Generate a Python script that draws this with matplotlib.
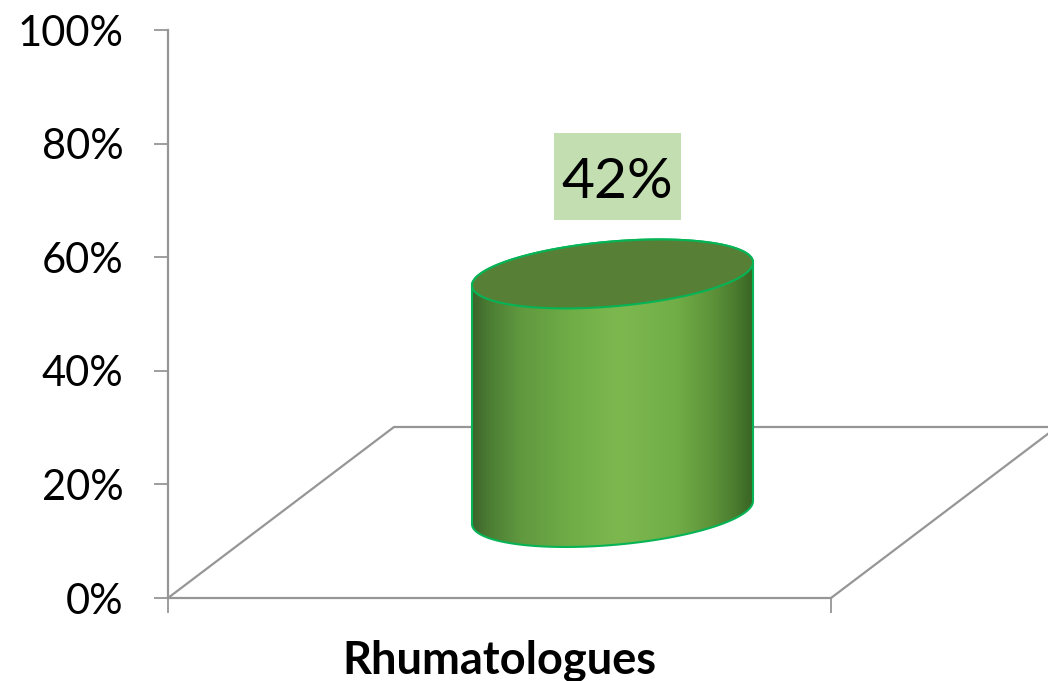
import matplotlib
matplotlib.use('Agg')
import matplotlib.pyplot as plt
from matplotlib.colors import LinearSegmentedColormap
from matplotlib.patches import Polygon, Rectangle
from matplotlib.ticker import FuncFormatter
import numpy as np

categories = ['Rhumatologues']
values = [42]
y_ticks = [0, 20, 40, 60, 80, 100]

plt.rcParams['font.family'] = ['Lato', 'DejaVu Sans']

W, H = 1048, 681
fig = plt.figure(figsize=(W / 100, H / 100), dpi=100)
#Axes box in pixels of the picture: x 168-831, y 30-598
ax = fig.add_axes([168 / W, 1 - 598 / H, 663 / W, 568 / H])
ax.set_xlim(-0.5, 0.5)
ax.set_ylim(0, 100)

grey = '#969696'
edge = '#06b456'

#Depth of the fake 3D floor, in data units
depth_x = 226 / 663
depth_y = 171 / 5.68

#Floor lines
ax.plot([-0.5, -0.5 + depth_x, 0.5 + depth_x, 0.5],
        [0, depth_y, depth_y, 0],
        color=grey, lw=1.6, clip_on=False, zorder=1)

#Cylinder: ellipse semi axes, with a shear for the tilt
rx = 140.5 / 663
ry = 32.5 / 5.68
shear = 11.5 / 5.68
t = np.linspace(0, 2 * np.pi, 200)


def ellipse(x0, y0, t):
    return x0 + rx * np.cos(t), y0 + shear * np.cos(t) + ry * np.sin(t)


side_cmap = LinearSegmentedColormap.from_list('side', [
    (0.00, '#3d642b'), (0.06, '#4c7d33'), (0.17, '#60983f'), (0.35, '#70ad47'),
    (0.52, '#7db84f'), (0.72, '#72ae48'), (0.85, '#5e943a'), (0.94, '#4a7a2e'),
    (1.00, '#376323')])

for i, v in enumerate(values):
    cx = i + depth_x / 2
    base = depth_y / 2
    top = base + v

    #Outline of the body: lower half of the base, then up and over the top ellipse
    tb = np.linspace(np.pi, 2 * np.pi, 100)
    xb, yb = ellipse(cx, base, tb)
    tt = np.linspace(0, np.pi, 100)
    xt, yt = ellipse(cx, top, tt)
    body = Polygon(np.column_stack([np.r_[xb, xt], np.r_[yb, yt]]), closed=True,
                   fc='none', ec=edge, lw=1.5, zorder=4, clip_on=False)
    ax.add_patch(body)

    grad = np.linspace(0, 1, 256).reshape(1, -1)
    im = ax.imshow(grad, cmap=side_cmap, aspect='auto', zorder=3,
                   extent=(cx - rx, cx + rx, base - 12, top + 12))
    im.set_clip_path(body)

    xe, ye = ellipse(cx, top, t)
    ax.fill(xe, ye, fc='#577f36', ec=edge, lw=1.5, zorder=5, clip_on=False)

    #Value label on its box
    box_w = 127 / 663
    box_h = 87 / 5.68
    box_x = cx + 5 / 663
    box_y = top + 53.5 / 5.68
    ax.add_patch(Rectangle((box_x - box_w / 2, box_y), box_w, box_h, fc='#c3dfb2',
                           ec='none', zorder=6, clip_on=False))
    ax.text(box_x, box_y + box_h / 2 - 6 / 5.68, '%d%%' % v, fontsize=41, color='black',
            ha='center', va='center', zorder=7)

#imshow resets the limits
ax.set_xlim(-0.5, 0.5)
ax.set_ylim(0, 100)

ax.spines['top'].set_visible(False)
ax.spines['right'].set_visible(False)
ax.spines['left'].set_color(grey)
ax.spines['bottom'].set_color(grey)
ax.spines['left'].set_linewidth(1.6)
ax.spines['bottom'].set_linewidth(1.6)

ax.set_yticks(y_ticks)
ax.yaxis.set_major_formatter(FuncFormatter(lambda y, pos: '%d%%' % y))
ax.tick_params(axis='y', length=10, width=1.3, color=grey, labelsize=30, pad=22)

#Ticks at the category edges, label in the middle
ax.set_xticks([-0.5, 0.5])
ax.set_xticklabels(['', ''])
ax.tick_params(axis='x', which='major', length=11, width=1.3, color=grey)
ax.set_xticks(range(len(categories)), labels=categories, minor=True)
ax.tick_params(axis='x', which='minor', length=0, labelsize=32.5, pad=30)
for lab in ax.get_xticklabels(minor=True):
    lab.set_fontweight('bold')

fig.savefig('out.png', dpi=100)
